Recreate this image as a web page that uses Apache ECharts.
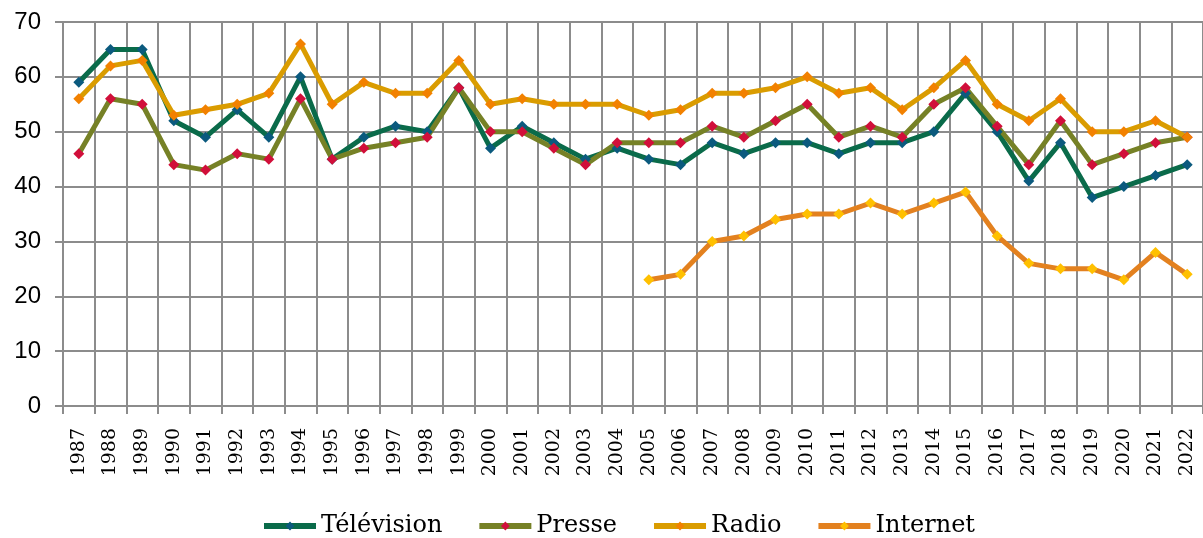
<!DOCTYPE html>
<html>
<head>
<meta charset="utf-8">
<script src="https://cdn.jsdelivr.net/npm/echarts@6/dist/echarts.min.js"></script>
<style>
  html, body { margin: 0; padding: 0; background: #fff; }
  #main { width: 1203px; height: 538px; }
</style>
</head>
<body>
<div id="main"></div>
<script>
// années
var annees = ['1987', '1988', '1989', '1990', '1991', '1992', '1993', '1994', '1995', '1996',
  '1997', '1998', '1999', '2000', '2001', '2002', '2003', '2004', '2005', '2006',
  '2007', '2008', '2009', '2010', '2011', '2012', '2013', '2014', '2015', '2016',
  '2017', '2018', '2019', '2020', '2021', '2022'];

var television = [59, 65, 65, 52, 49, 54, 49, 60, 45, 49, 51, 50, 58, 47, 51, 48, 45, 47, 45, 44,
  48, 46, 48, 48, 46, 48, 48, 50, 57, 50, 41, 48, 38, 40, 42, 44];
var presse = [46, 56, 55, 44, 43, 46, 45, 56, 45, 47, 48, 49, 58, 50, 50, 47, 44, 48, 48, 48,
  51, 49, 52, 55, 49, 51, 49, 55, 58, 51, 44, 52, 44, 46, 48, 49];
var radio = [56, 62, 63, 53, 54, 55, 57, 66, 55, 59, 57, 57, 63, 55, 56, 55, 55, 55, 53, 54,
  57, 57, 58, 60, 57, 58, 54, 58, 63, 55, 52, 56, 50, 50, 52, 49];
// internet commence en 2005
var internet = ['-', '-', '-', '-', '-', '-', '-', '-', '-', '-', '-', '-', '-', '-', '-', '-', '-', '-',
  23, 24, 30, 31, 34, 35, 35, 37, 35, 37, 39, 31, 26, 25, 25, 23, 28, 24];

var yTicks = [0, 10, 20, 30, 40, 50, 60, 70];

var gris = '#8c8c8c';

function serie(nom, data, couleurLigne, couleurPoint) {
  return {
    name: nom,
    type: 'line',
    data: data,
    symbol: 'diamond',
    symbolSize: 11,
    showAllSymbol: true,
    lineStyle: { color: couleurLigne, width: 5 },
    itemStyle: { color: couleurPoint, borderWidth: 0 },
    color: couleurLigne,
    animation: false
  };
}

var chart = echarts.init(document.getElementById('main'));

var option = {
  animation: false,
  grid: { left: 63, right: 0, top: 22, bottom: 132 },
  legend: {
    top: 509,
    left: 256,
    itemWidth: 52,
    itemHeight: 11,
    itemGap: 34,
    lineStyle: { width: 6 },
    textStyle: { fontFamily: 'DejaVu Serif', fontSize: 24, color: '#000' },
    data: ['Télévision', 'Presse', 'Radio', 'Internet']
  },
  xAxis: {
    type: 'category',
    data: annees,
    boundaryGap: true,
    axisLine: { lineStyle: { color: gris, width: 2 } },
    axisTick: { show: true, length: 8, lineStyle: { color: gris, width: 2 } },
    splitLine: { show: true, lineStyle: { color: gris, width: 2 } },
    axisLabel: {
      rotate: 90,
      interval: 0,
      margin: 22,
      fontFamily: 'DejaVu Serif',
      fontSize: 19,
      color: '#000'
    }
  },
  yAxis: {
    type: 'value',
    min: yTicks[0],
    max: yTicks[yTicks.length - 1],
    interval: 10,
    axisLine: { show: true, lineStyle: { color: gris, width: 2 } },
    axisTick: { show: true, length: 8, lineStyle: { color: gris, width: 2 } },
    splitLine: { show: true, lineStyle: { color: gris, width: 2 } },
    axisLabel: {
      margin: 22,
      fontFamily: 'Liberation Sans',
      fontSize: 24,
      color: '#000'
    }
  },
  series: [
    serie('Télévision', television, '#0a6b4a', '#0b5a7e'),
    serie('Presse', presse, '#768126', '#d10f3a'),
    serie('Radio', radio, '#da9c00', '#f28100'),
    serie('Internet', internet, '#e3811f', '#ffc000')
  ]
};

chart.setOption(option);
</script>
</body>
</html>
